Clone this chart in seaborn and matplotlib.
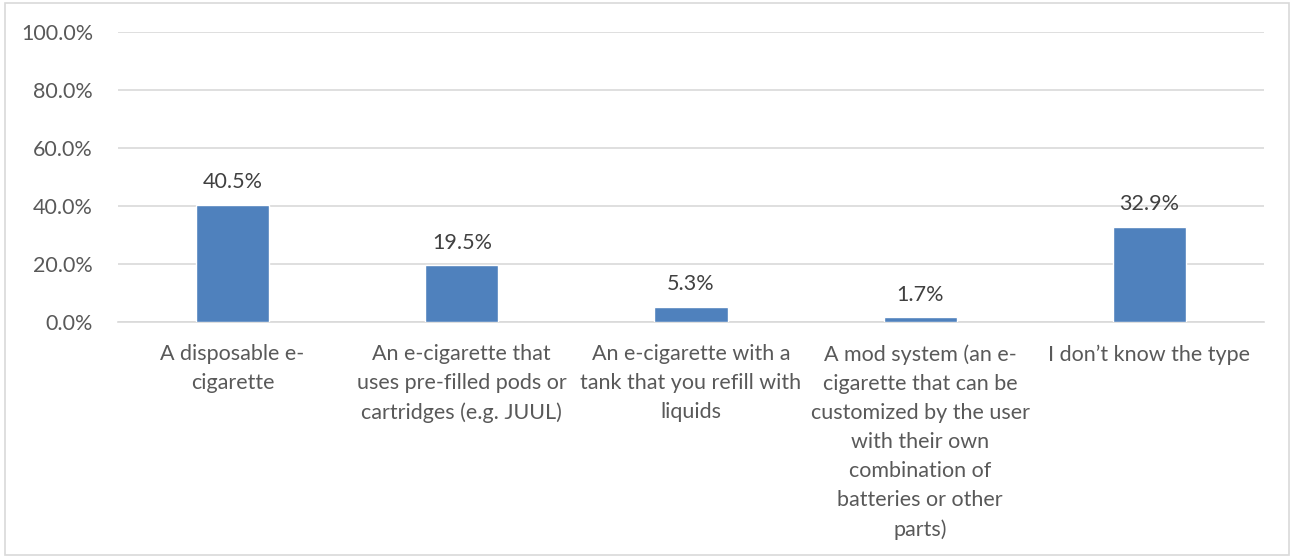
import matplotlib
matplotlib.use("Agg")
import matplotlib.pyplot as plt
import seaborn as sns
import pandas as pd
from matplotlib.ticker import FuncFormatter
from matplotlib.patches import Rectangle

categories = [
    "A disposable e-\ncigarette",
    "An e-cigarette that\nuses pre-filled pods or\ncartridges (e.g. JUUL)",
    "An e-cigarette with a\ntank that you refill with\nliquids",
    "A mod system (an e-\ncigarette that can be\ncustomized by the user\nwith their own\ncombination of\nbatteries or other\nparts)",
    "I don\u2019t know the type",
]
values = [40.5, 19.5, 5.3, 1.7, 32.9]
yticks = [0, 20, 40, 60, 80, 100]

sns.set_theme(style="white")
plt.rcParams['font.family'] = ['Lato', 'DejaVu Sans']

df = pd.DataFrame({"cat": categories, "val": values})

fig = plt.figure(figsize=(12.94, 5.58), dpi=100)
ax = fig.add_axes([118/1294, 1-322/558, (1264-118)/1294, (322-32)/558])

sns.barplot(data=df, x="cat", y="val", color="#4F81BD", width=0.32,
            saturation=1, ax=ax, zorder=3)

FS = 15.5
ax.set_ylim(0, 100)
ax.set_yticks(yticks)
ax.yaxis.set_major_formatter(FuncFormatter(lambda v, p: f"{v:.1f}%"))
ax.grid(axis="y", color="#D9D9D9", linewidth=1.2, zorder=0)
ax.set_axisbelow(True)
for s in ["top", "right", "left"]:
    ax.spines[s].set_visible(False)
ax.spines["bottom"].set_color("#D9D9D9")
ax.spines["bottom"].set_linewidth(1.2)
ax.set_xlabel("")
ax.set_ylabel("")
ax.tick_params(axis="y", length=0, pad=18, labelsize=FS, labelcolor="#595959")
ax.tick_params(axis="x", length=0, pad=16, labelsize=FS, labelcolor="#595959")
for lab in ax.get_xticklabels():
    lab.set_linespacing(1.57)
    lab.set_verticalalignment("top")

for i, v in enumerate(values):
    ax.annotate(f"{v:.1f}%", (i, v), xytext=(0, 9), textcoords="offset points",
                ha="center", va="bottom", fontsize=FS, color="#404040")

fig.patches.append(Rectangle((5/1294, 3/558), 1284/1294, 552/558, transform=fig.transFigure,
                             fill=False, edgecolor="#D9D9D9", linewidth=1.2))

fig.savefig("out.png", dpi=100, facecolor="white")
